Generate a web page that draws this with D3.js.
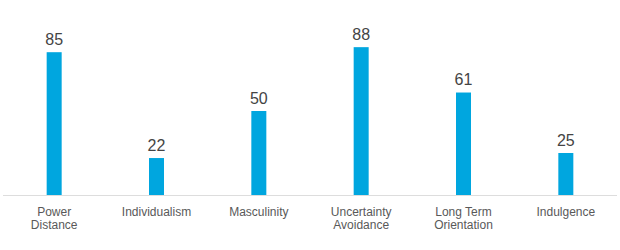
<!DOCTYPE html>
<html>
<head>
<meta charset="utf-8">
<script src="https://cdn.jsdelivr.net/npm/d3@7"></script>
<style>
  body { margin: 0; background: #fff; }
  svg { display: block; font-family: "Liberation Sans", Arial, sans-serif; }
</style>
</head>
<body>
<div id="chart"></div>
<script>
// data
const categories = ["Power Distance", "Individualism", "Masculinity", "Uncertainty Avoidance", "Long Term Orientation", "Indulgence"];
const scores = [85, 22, 50, 88, 61, 25];
const tickLines = [["Power", "Distance"], ["Individualism"], ["Masculinity"], ["Uncertainty", "Avoidance"], ["Long Term", "Orientation"], ["Indulgence"]];

const width = 620, height = 250;
const baseY = 195;

const svg = d3.select("#chart").append("svg")
    .attr("width", width)
    .attr("height", height);

const x = d3.scaleBand()
    .domain(categories)
    .range([3, 617]);

const y = d3.scaleLinear()
    .domain([0, 100])
    .range([baseY, 27]);

const barW = 15;

// baseline
svg.append("line")
    .attr("x1", 3).attr("x2", 617)
    .attr("y1", baseY + 0.5).attr("y2", baseY + 0.5)
    .attr("stroke", "#dddddd");

// bars
svg.selectAll("rect.bar")
    .data(scores)
    .join("rect")
    .attr("class", "bar")
    .attr("x", (d, i) => x(categories[i]) + x.bandwidth() / 2 - barW / 2)
    .attr("y", d => y(d))
    .attr("width", barW)
    .attr("height", d => baseY - y(d))
    .attr("fill", "#00a6df");

// value labels
svg.selectAll("text.val")
    .data(scores)
    .join("text")
    .attr("class", "val")
    .attr("x", (d, i) => x(categories[i]) + x.bandwidth() / 2)
    .attr("y", d => y(d) - 7.5)
    .attr("text-anchor", "middle")
    .attr("font-size", 16)
    .attr("fill", "#444")
    .text(d => d);

// category labels
const ticks = svg.selectAll("text.tick")
    .data(categories)
    .join("text")
    .attr("class", "tick")
    .attr("x", d => x(d) + x.bandwidth() / 2)
    .attr("y", 216)
    .attr("text-anchor", "middle")
    .attr("font-size", 12)
    .attr("fill", "#595959");

ticks.selectAll("tspan")
    .data((d, i) => tickLines[i])
    .join("tspan")
    .attr("x", function () { return d3.select(this.parentNode).attr("x"); })
    .attr("dy", (d, j) => j === 0 ? 0 : 13.3)
    .text(d => d);
</script>
</body>
</html>
